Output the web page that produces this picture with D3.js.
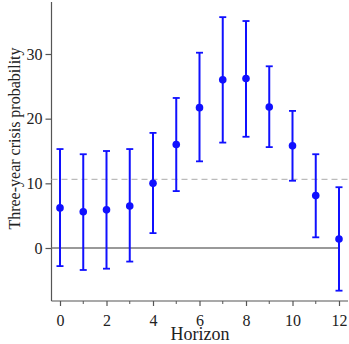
<!DOCTYPE html>
<html><head><meta charset="utf-8">
<script src="https://cdn.jsdelivr.net/npm/d3@7"></script>
<style>body{margin:0;background:#fff}svg{display:block}</style>
</head><body>
<svg id="c" width="349" height="344"></svg>
<script>
const horizons = [0,1,2,3,4,5,6,7,8,9,10,11,12];
const estimates = [6.2,5.6,5.9,6.5,10.0,16.0,21.7,26.0,26.2,21.8,15.8,8.1,1.4];
const upper = [15.3,14.5,15.0,15.3,17.8,23.2,30.2,35.7,35.1,28.1,21.2,14.5,9.4];
const lower = [-2.8,-3.4,-3.2,-2.1,2.3,8.8,13.4,16.3,17.2,15.6,10.4,1.65,-6.6];
const yTicks = [0,10,20,30];
const xTicks = [0,2,4,6,8,10,12];
const xMinor = [1,3,5,7,9,11];
const refLine = 10.6;

(function(){
const svg = d3.select("#c");
const font = "'Liberation Serif', 'DejaVu Serif', serif";
const x = d3.scaleLinear().domain([0,12]).range([60,339]);
const y = d3.scaleLinear().domain([0,30]).range([248,54]);
const pL = 51.5, pB = 301, pR = 348, pT = 2;
const axisCol = "#555";

svg.append("line").attr("x1",pL).attr("x2",pL).attr("y1",pT).attr("y2",pB).attr("stroke",axisCol).attr("stroke-width",1.2);
svg.append("line").attr("x1",pL).attr("x2",pR).attr("y1",pB).attr("y2",pB).attr("stroke",axisCol).attr("stroke-width",1.2);

const yAxis = svg.append("g").attr("transform",`translate(${pL},0)`)
  .call(d3.axisLeft(y).tickValues(yTicks).tickSize(6).tickPadding(3));
yAxis.select(".domain").remove();
yAxis.selectAll("line").attr("stroke",axisCol).attr("stroke-width",1.2);
yAxis.selectAll("text").attr("font-family",font).attr("font-size",16).attr("fill","#222");

const xAxis = svg.append("g").attr("transform",`translate(0,${pB})`)
  .call(d3.axisBottom(x).tickValues(xTicks).tickSize(5).tickPadding(9));
xAxis.select(".domain").remove();
xAxis.selectAll("line").attr("stroke",axisCol).attr("stroke-width",1.2);
xAxis.selectAll("text").attr("font-family",font).attr("font-size",16).attr("fill","#222");

svg.append("g").selectAll("line").data(xMinor).join("line")
  .attr("x1",d=>x(d)).attr("x2",d=>x(d)).attr("y1",pB).attr("y2",pB+3)
  .attr("stroke",axisCol).attr("stroke-width",1);

svg.append("line").attr("x1",pL).attr("x2",pR).attr("y1",y(refLine)).attr("y2",y(refLine))
  .attr("stroke","#bbb").attr("stroke-width",1.3).attr("stroke-dasharray","6,4");
svg.append("line").attr("x1",pL).attr("x2",x(12)).attr("y1",y(0)).attr("y2",y(0))
  .attr("stroke","#777").attr("stroke-width",1.5);

const blue = "#1010ff";
const g = svg.append("g");
horizons.forEach((h,i)=>{
  g.append("line").attr("x1",x(h)).attr("x2",x(h)).attr("y1",y(upper[i])).attr("y2",y(lower[i]))
    .attr("stroke",blue).attr("stroke-width",2);
  [upper[i],lower[i]].forEach(v=>{
    g.append("line").attr("x1",x(h)-3.5).attr("x2",x(h)+3.5).attr("y1",y(v)).attr("y2",y(v))
      .attr("stroke",blue).attr("stroke-width",1.8);
  });
  g.append("circle").attr("cx",x(h)).attr("cy",y(estimates[i])).attr("r",3.8).attr("fill",blue);
});

svg.append("text").attr("x",200).attr("y",339.5).attr("text-anchor","middle")
  .attr("font-family",font).attr("font-size",18).attr("fill","#222").text("Horizon");
svg.append("text").attr("transform","translate(20,138.5) rotate(-90)").attr("text-anchor","middle")
  .attr("font-family",font).attr("font-size",16).attr("fill","#222").text("Three-year crisis probability");
})();
</script>
</body></html>
